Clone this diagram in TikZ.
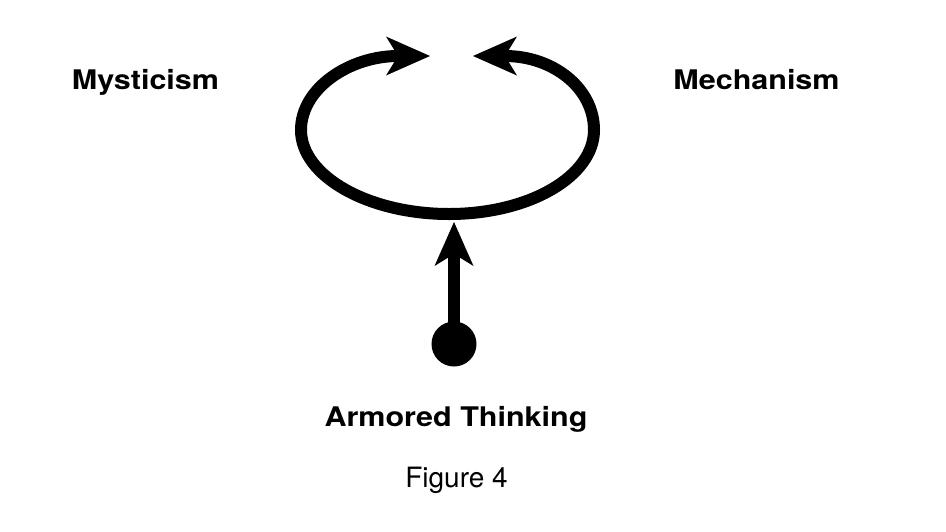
\documentclass[tikz,border=0pt]{standalone}
\usepackage{fontspec}
\newfontfamily\hv{TeX Gyre Heros}
\usetikzlibrary{arrows.meta}
\newcommand{\widen}[1]{\scalebox{1.13}[1]{#1}}
\begin{document}
\begin{tikzpicture}[x=1pt,y=-1pt,
  loopline/.style={line width=12pt, line cap=butt,
    -{Stealth[length=44pt,width=39pt,inset=12pt,line width=0pt]}},
  lbl/.style={anchor=base, inner sep=0pt, font=\hv\bfseries\fontsize{27}{31}\selectfont},
  figcap/.style={anchor=base, inner sep=0pt, font=\hv\fontsize{28}{33}\selectfont}]
\useasboundingbox (0,0) rectangle (946,531);
\fill[white] (0,0) rectangle (946,531);
% coordinates
\coordinate (bot) at (449,214);
\coordinate (ltip) at (430,56);
\coordinate (rtip) at (473,56);
\coordinate (vtip) at (454,222);
\node[circle, fill=black, minimum size=45pt, inner sep=0pt] (dot) at (454,344) {};
% loop
\draw[loopline] (bot) .. controls (368,214) and (301,176) .. (301,130)
   .. controls (301,88) and (350,56) .. (ltip);
\draw[loopline] (bot) .. controls (530,214) and (594,176) .. (594,130)
   .. controls (594,88) and (553,56) .. (rtip);
% vertical arrow
\draw[loopline] (dot.center) -- (vtip);
% labels
\node[lbl] (myst) at (145.5,89) {\widen{Mysticism}};
\node[lbl] (mech) at (756.5,89) {\widen{Mechanism}};
\node[lbl] (armor) at (456,426) {\widen{Armored Thinking}};
\node[figcap] (fig) at (456.5,487) {Figure 4};
\end{tikzpicture}
\end{document}
